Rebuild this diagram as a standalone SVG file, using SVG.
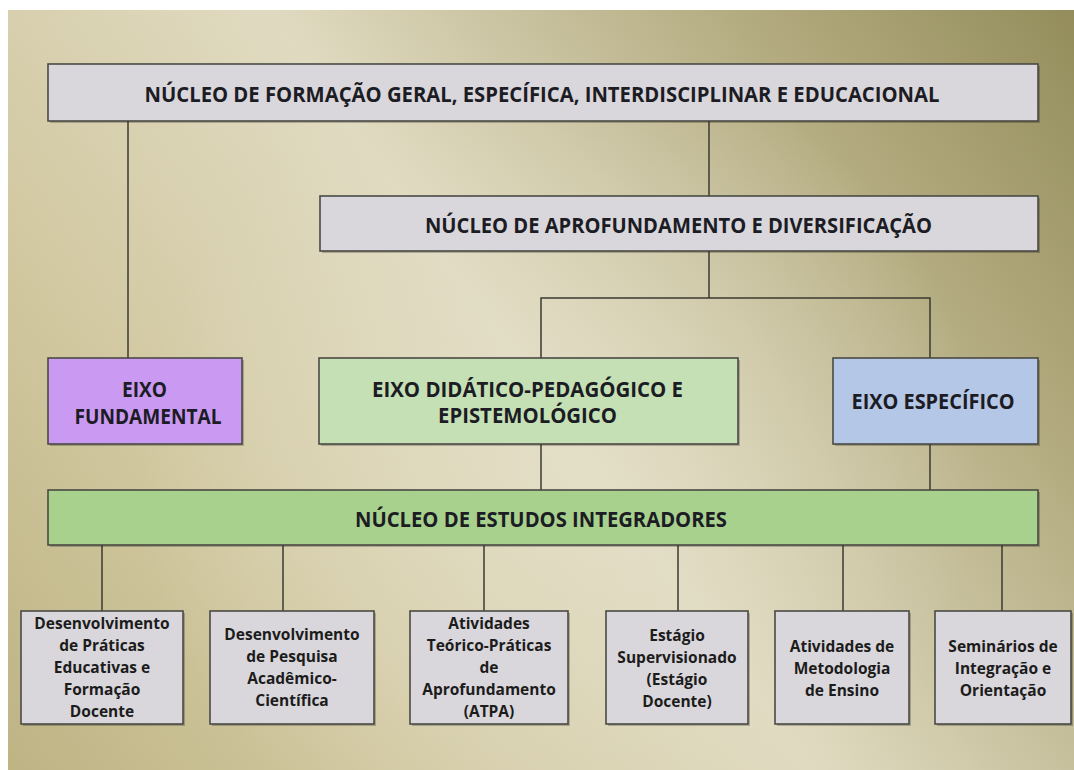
<svg xmlns="http://www.w3.org/2000/svg" width="1074" height="770" viewBox="0 0 1074 770">
<defs>
<linearGradient id="bg" x1="1074" y1="0" x2="0" y2="770" gradientUnits="userSpaceOnUse">
<stop offset="0" stop-color="#938c5a"/>
<stop offset="0.22" stop-color="#b5ad82"/>
<stop offset="0.5" stop-color="#e0dac1"/>
<stop offset="0.75" stop-color="#d2c9a2"/>
<stop offset="1" stop-color="#bdb383"/>
</linearGradient>
<radialGradient id="shine" cx="560" cy="470" r="420" gradientUnits="userSpaceOnUse">
<stop offset="0" stop-color="#e6e1cb" stop-opacity="0.6"/>
<stop offset="1" stop-color="#e6e1cb" stop-opacity="0"/>
</radialGradient>
</defs>
<style>
.box{stroke:#4a4a44;stroke-width:1.6}
.gray{fill:#d9d7db}
.sh{fill:#000;opacity:0.22}
.hd{font-family:"Open Sans","Liberation Sans",sans-serif;font-weight:700;font-size:22px;fill:#1c1c24;text-anchor:middle}
.sm{font-family:"Open Sans","Liberation Sans",sans-serif;font-weight:700;font-size:15.5px;fill:#1c1c1c;text-anchor:middle}
.ln{stroke:#3a3a30;stroke-width:1.5;fill:none}
</style>
<rect x="0" y="0" width="1074" height="770" fill="#ffffff"/>
<rect x="8" y="10" width="1066" height="760" fill="url(#bg)"/>
<rect x="8" y="10" width="1066" height="760" fill="url(#shine)"/>

<g id="connectors">
<line class="ln" x1="128" y1="121" x2="128" y2="358"/>
<line class="ln" x1="709" y1="121" x2="709" y2="196"/>
<line class="ln" x1="709" y1="251" x2="709" y2="298"/>
<polyline class="ln" points="541,358 541,298 930,298 930,358"/>
<line class="ln" x1="541" y1="444" x2="541" y2="490"/>
<line class="ln" x1="930" y1="444" x2="930" y2="490"/>
<line class="ln" x1="102" y1="545" x2="102" y2="611"/>
<line class="ln" x1="283" y1="545" x2="283" y2="611"/>
<line class="ln" x1="484" y1="545" x2="484" y2="611"/>
<line class="ln" x1="678" y1="545" x2="678" y2="611"/>
<line class="ln" x1="843" y1="545" x2="843" y2="611"/>
<line class="ln" x1="1002" y1="545" x2="1002" y2="611"/>
</g>

<g id="nucleo-formacao">
<rect class="sh" x="50" y="66" width="990" height="57"/>
<rect class="box gray" x="48" y="64" width="990" height="57"/>
<text class="hd" x="542" y="102" textLength="795" lengthAdjust="spacingAndGlyphs">NÚCLEO DE FORMAÇÃO GERAL, ESPECÍFICA, INTERDISCIPLINAR E EDUCACIONAL</text>
</g>

<g id="nucleo-aprofundamento">
<rect class="sh" x="322" y="198" width="718" height="55"/>
<rect class="box gray" x="320" y="196" width="718" height="55"/>
<text class="hd" x="678.5" y="233" textLength="507" lengthAdjust="spacingAndGlyphs">NÚCLEO DE APROFUNDAMENTO E DIVERSIFICAÇÃO</text>
</g>

<g id="eixo-fundamental">
<rect class="sh" x="50" y="360" width="194" height="86"/>
<rect class="box" x="48" y="358" width="194" height="86" fill="#ca9af3"/>
<text class="hd" x="144.5" y="397" textLength="45" lengthAdjust="spacingAndGlyphs">EIXO</text>
<text class="hd" x="148" y="424" textLength="147" lengthAdjust="spacingAndGlyphs">FUNDAMENTAL</text>
</g>

<g id="eixo-didatico">
<rect class="sh" x="321" y="360" width="419" height="86"/>
<rect class="box" x="319" y="358" width="419" height="86" fill="#c6e0b5"/>
<text class="hd" x="527.5" y="397" textLength="311" lengthAdjust="spacingAndGlyphs">EIXO DIDÁTICO-PEDAGÓGICO E</text>
<text class="hd" x="527.5" y="423" textLength="179" lengthAdjust="spacingAndGlyphs">EPISTEMOLÓGICO</text>
</g>

<g id="eixo-especifico">
<rect class="sh" x="835" y="360" width="205" height="86"/>
<rect class="box" x="833" y="358" width="205" height="86" fill="#b5c7e6"/>
<text class="hd" x="933" y="409" textLength="163" lengthAdjust="spacingAndGlyphs">EIXO ESPECÍFICO</text>
</g>

<g id="nucleo-integradores">
<rect class="sh" x="50" y="492" width="990" height="55"/>
<rect class="box" x="48" y="490" width="990" height="55" fill="#a9d18e"/>
<text class="hd" x="541" y="527" textLength="372" lengthAdjust="spacingAndGlyphs">NÚCLEO DE ESTUDOS INTEGRADORES</text>
</g>

<g id="praticas-educativas">
<rect class="sh" x="23" y="613" width="162" height="113"/>
<rect class="box gray" x="21" y="611" width="162" height="113"/>
<text class="sm" x="102" y="629">Desenvolvimento</text>
<text class="sm" x="102" y="651">de Práticas</text>
<text class="sm" x="102" y="673">Educativas e</text>
<text class="sm" x="102" y="695">Formação</text>
<text class="sm" x="102" y="717">Docente</text>
</g>

<g id="pesquisa">
<rect class="sh" x="212" y="613" width="164" height="113"/>
<rect class="box gray" x="210" y="611" width="164" height="113"/>
<text class="sm" x="292" y="640">Desenvolvimento</text>
<text class="sm" x="292" y="662">de Pesquisa</text>
<text class="sm" x="292" y="684">Acadêmico-</text>
<text class="sm" x="292" y="706">Científica</text>
</g>

<g id="atpa">
<rect class="sh" x="412" y="613" width="158" height="113"/>
<rect class="box gray" x="410" y="611" width="158" height="113"/>
<text class="sm" x="489" y="629">Atividades</text>
<text class="sm" x="489" y="651">Teórico-Práticas</text>
<text class="sm" x="489" y="673">de</text>
<text class="sm" x="489" y="695">Aprofundamento</text>
<text class="sm" x="489" y="717">(ATPA)</text>
</g>

<g id="estagio">
<rect class="sh" x="608" y="613" width="142" height="113"/>
<rect class="box gray" x="606" y="611" width="142" height="113"/>
<text class="sm" x="677" y="641">Estágio</text>
<text class="sm" x="677" y="663">Supervisionado</text>
<text class="sm" x="677" y="685">(Estágio</text>
<text class="sm" x="677" y="707">Docente)</text>
</g>

<g id="metodologia">
<rect class="sh" x="777" y="613" width="134" height="113"/>
<rect class="box gray" x="775" y="611" width="134" height="113"/>
<text class="sm" x="842" y="652">Atividades de</text>
<text class="sm" x="842" y="674">Metodologia</text>
<text class="sm" x="842" y="696">de Ensino</text>
</g>

<g id="seminarios">
<rect class="sh" x="937" y="613" width="136" height="113"/>
<rect class="box gray" x="935" y="611" width="136" height="113"/>
<text class="sm" x="1003" y="652">Seminários de</text>
<text class="sm" x="1003" y="674">Integração e</text>
<text class="sm" x="1003" y="696">Orientação</text>
</g>
</svg>
